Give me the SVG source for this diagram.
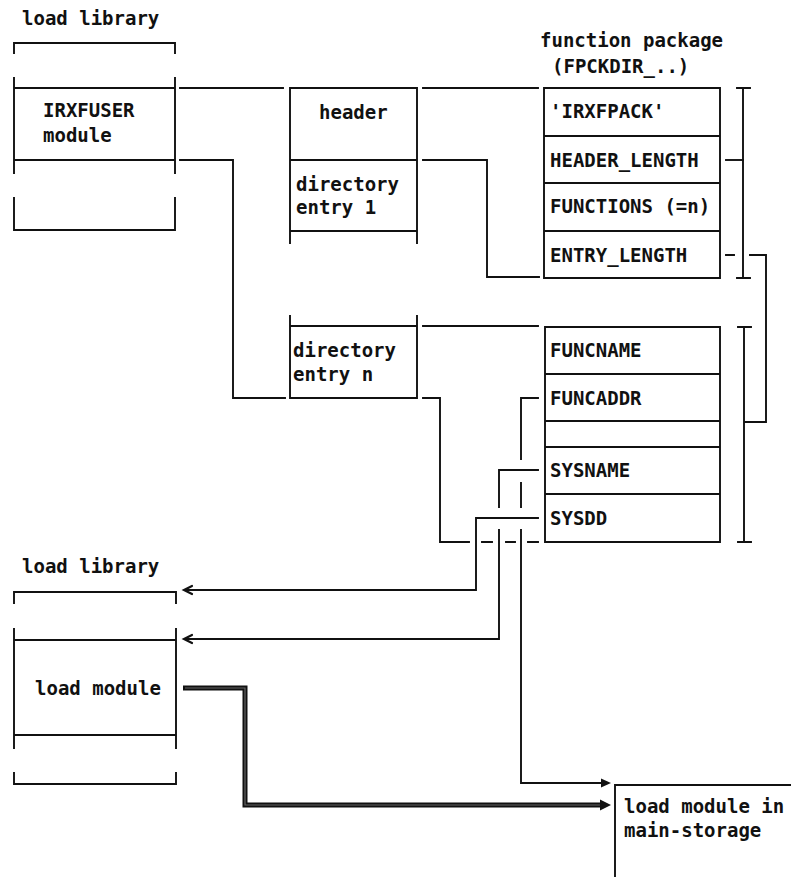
<svg xmlns="http://www.w3.org/2000/svg" width="791" height="877" viewBox="0 0 791 877">
<style>
.ln{fill:none;stroke:#111;stroke-width:1.9;stroke-linecap:square}
.ah{fill:none;stroke:#111;stroke-width:2.2;stroke-linecap:round;stroke-linejoin:miter}
.t{font-family:"DejaVu Sans Mono","Liberation Mono",monospace;font-size:19px;font-weight:bold;fill:#111}
.dbl{fill:none;stroke:#111;stroke-width:5}
.dbli{fill:none;stroke:#fff;stroke-width:1.2;stroke-opacity:0.35}
</style>
<rect width="791" height="877" fill="#fff"/>

<g id="load-library-top">
<text class="t" x="22" y="25">load library</text>
<path class="ln" d="M14,53 V43 H175 V53 M14,78 V173 M175,78 V173 M14,88 H175 M14,160 H175 M14,198 V230 H175 V198"/>
<text class="t" x="43" y="117">IRXFUSER</text>
<text class="t" x="43" y="142">module</text>
</g>

<g id="header-dir1">
<path class="ln" d="M290,88 V243 M417,88 V243 M290,88 H417 M290,160 H417 M290,231 H417"/>
<text class="t" x="319" y="119">header</text>
<text class="t" x="296" y="191">directory</text>
<text class="t" x="296" y="214">entry 1</text>
</g>

<g id="dir-n">
<path class="ln" d="M290,316 V398 M417,316 V398 M290,326 H417 M290,398 H417"/>
<text class="t" x="293" y="357">directory</text>
<text class="t" x="293" y="381">entry n</text>
</g>

<g id="function-package">
<text class="t" x="540" y="47">function package</text>
<text class="t" x="552" y="73">(FPCKDIR_..)</text>
<path class="ln" d="M544,88 H720 V278 H544 Z M544,136 H720 M544,183 H720 M544,231 H720"/>
<text class="t" x="550" y="118">'IRXFPACK'</text>
<text class="t" x="550" y="167">HEADER_LENGTH</text>
<text class="t" x="550" y="213">FUNCTIONS (=n)</text>
<text class="t" x="550" y="262">ENTRY_LENGTH</text>
</g>

<g id="function-entry">
<path class="ln" d="M545,327 H720 V542 H545 Z M545,374 H720 M545,421 H720 M545,447 H720 M545,494 H720"/>
<text class="t" x="550" y="357">FUNCNAME</text>
<text class="t" x="550" y="405">FUNCADDR</text>
<text class="t" x="550" y="477">SYSNAME</text>
<text class="t" x="550" y="525">SYSDD</text>
</g>

<g id="brackets">
<path class="ln" d="M743,88 V278 M737,88 H750 M737,278 H750 M744,327 V542 M738,327 H751 M738,542 H751"/>
</g>

<g id="load-library-bottom">
<text class="t" x="22" y="573">load library</text>
<path class="ln" d="M14,603 V592 H176 V603 M14,629 V748 M176,629 V748 M14,640 H176 M14,735 H176 M14,773 V784 H176 V773"/>
<text class="t" x="35" y="695">load module</text>
</g>

<g id="main-storage">
<path class="ln" d="M615,877 V785 H791"/>
<text class="t" x="624" y="813">load module in</text>
<text class="t" x="624" y="837">main-storage</text>
</g>

<g id="connectors">
<path class="ln" d="M180,88 H283 M423,88 H538"/>
<path class="ln" d="M180,160 H233 V398 H285"/>
<path class="ln" d="M423,160 H487 V277 H539"/>
<path class="ln" d="M726,160 H743"/>
<path class="ln" d="M726,255 H734 M750,255 H766 V422 H745"/>
<path class="ln" d="M423,326 H538"/>
<path class="ln" d="M423,398 H440 V542 H469 M482,542 H492 M506,542 H515 M528,542 H538"/>
<path class="ln" d="M538,518 H476 V590 H186"/>
<path class="ah" d="M192,586 L184,590 L192,594"/>
<path class="ln" d="M538,470 H499 V507 M499,530 V639 H186"/>
<path class="ah" d="M192,635 L184,639 L192,643"/>
<path class="ln" d="M538,398 H521 V459 M521,483 V507 M521,530 V783 H603"/>
<polygon points="611,783 601,778.5 601,787.5" fill="#111"/>
<path class="dbl" d="M183,688 H245 V805 H603"/>
<path class="dbli" d="M185,688 H245 V805 H600"/>
<polygon points="611,805 600,799.5 600,810.5" fill="#111"/>
</g>
</svg>
